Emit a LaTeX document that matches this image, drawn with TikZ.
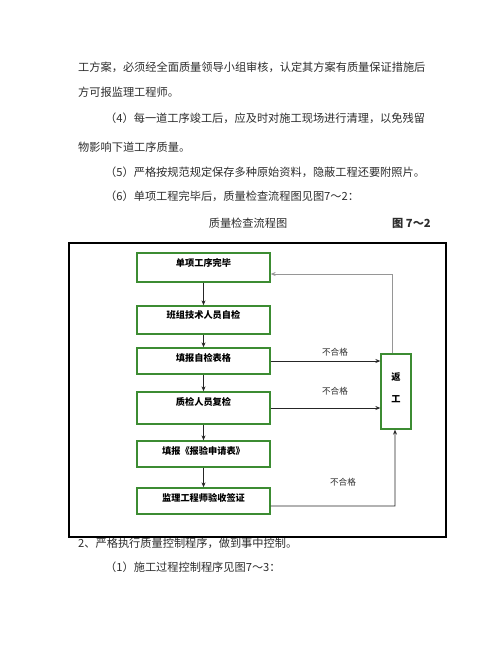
\documentclass[tikz,border=0pt]{standalone}
\usepackage{fontspec}
\setmainfont{Noto Sans CJK SC}
\usetikzlibrary{arrows.meta}
\definecolor{bodytxt}{RGB}{45,45,45}
\definecolor{boxgreen}{RGB}{60,140,50}
\definecolor{retgray}{RGB}{150,150,150}
\tikzset{
  txt/.style={anchor=west, inner sep=0pt, text=bodytxt, font=\fontsize{11.2bp}{13bp}\selectfont},
  stepbox/.style={draw=boxgreen, line width=1.3bp, minimum width=133bp, minimum height=#1, inner sep=0pt},
  boxlbl/.style={inner sep=0pt, text=black, font=\fontsize{9.2bp}{11bp}\selectfont\bfseries},
  nglbl/.style={inner sep=0pt, text=bodytxt, font=\fontsize{8.6bp}{10bp}\selectfont},
  arr/.style={-{Stealth[length=5bp,width=4bp]}, line width=0.8bp, draw=black!85},
}
\begin{document}
\begin{tikzpicture}[x=1bp,y=-1bp]
\useasboundingbox (0,0) rectangle (500,647);
\fill[white] (0,0) rectangle (500,647);
% body text
\node[txt] (l1) at (78,67) {工方案，必须经全面质量领导小组审核，认定其方案有质量保证措施后};
\node[txt] (l2) at (78,92) {方可报监理工程师。};
\node[txt] (l3) at (105,118) {（4）每一道工序竣工后，应及时对施工现场进行清理，以免残留};
\node[txt] (l4) at (78,147) {物影响下道工序质量。};
\node[txt] (l5) at (105,172) {（5）严格按规范规定保存多种原始资料，隐蔽工程还要附照片。};
\node[txt] (l6) at (105,196) {（6）单项工程完毕后，质量检查流程图见图7～2：};
\node[txt, anchor=center] (cap) at (248,223) {质量检查流程图};
\node[txt, anchor=east, font=\fontsize{11.2bp}{13bp}\selectfont\bfseries] (fig) at (431,223) {图 7～2};
\node[txt] (l7) at (78,543) {2、严格执行质量控制程序，做到事中控制。};
\node[txt] (l8) at (105,567) {（1）施工过程控制程序见图7～3：};
% boxes
\node[stepbox=29bp] (b1) at (203.5,267.5) {};
\node[stepbox=28bp] (b2) at (203.5,320) {};
\node[stepbox=26bp] (b3) at (203.5,361) {};
\node[stepbox=32bp] (b4) at (203.5,408) {};
\node[stepbox=26bp] (b5) at (203.5,454) {};
\node[stepbox=26bp] (b6) at (203.5,501) {};
\node[boxlbl] (t1) at (203.5,263) {单项工序完毕};
\node[boxlbl] (t2) at (203.5,315) {班组技术人员自检};
\node[boxlbl] (t3) at (203.5,358) {填报自检表格};
\node[boxlbl] (t4) at (203.5,402) {质检人员复检};
\node[boxlbl] (t5) at (203.5,451) {填报《报验申请表》};
\node[boxlbl] (t6) at (203.5,498) {监理工程师验收签证};
% return box
\node[draw=boxgreen, line width=1.3bp, minimum width=30bp, minimum height=75bp, inner sep=0pt] (r) at (396,391.5) {};
\node[boxlbl] (rt1) at (396,377) {返};
\node[boxlbl] (rt2) at (396,399) {工};
% vertical arrows
\draw[arr] (b1.south) -- (b2.north);
\draw[arr] (b2.south) -- (b3.north);
\draw[arr] (b3.south) -- (b4.north);
\draw[arr] (b4.south) -- (b5.north);
\draw[arr] (b5.south) -- (b6.north);
% fail arrows
\draw[arr] (b3.east) -- (b3.east -| r.west);
\node[nglbl] (n1) at (335,352) {不合格};
\draw[arr] (b4.east) -- (b4.east -| r.west);
\node[nglbl] (n2) at (335,391) {不合格};
\coordinate (c6) at (395,506);
\draw[arr] ([yshift=-5bp]b6.east) -- (c6) -- (c6 |- r.south);
\node[nglbl] (n3) at (343,482) {不合格};
% return
\coordinate (rtop) at (392,274);
\draw[-{Stealth[length=5bp,width=4bp]}, line width=0.9bp, draw=retgray] (r.north -| rtop) -- (rtop) -- (rtop -| b1.east);
% frame
\draw[line width=2.6bp, black] (69,243) rectangle (446,537);
\end{tikzpicture}
\end{document}
